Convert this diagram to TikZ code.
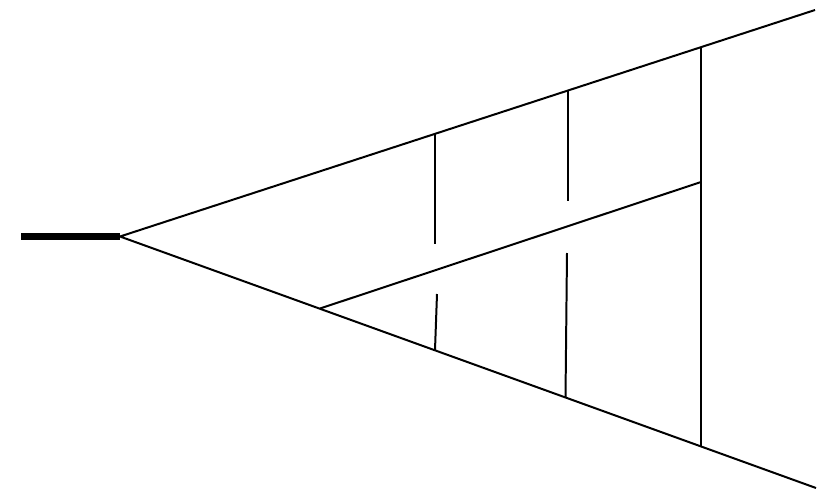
\documentclass[tikz,border=0pt]{standalone}
\usetikzlibrary{calc}
\tikzset{
	every path/.style={line width=1.7pt, line cap=butt},
	stem/.style={line width=6pt},
}
\begin{document}
\begin{tikzpicture}[x=0.03cm, y=-0.03cm]
		
		\useasboundingbox (0,0) rectangle (830,499);
		
		% points.....................
		\coordinate (apex) at (120,236.5);
		\coordinate (topend) at (815,10);
		\coordinate (botend) at (816,488);
		\coordinate (innerA) at (320,308.5);
		\coordinate (innerB) at (701,182);
		
		% stem......................
		\draw [stem] (21,236.5) to (apex);
		
		% outer lines...................
		\draw (topend) to (apex) to (botend);
		
		% inner line....................
		\draw (innerA) to (innerB);
		
		% right vertical...................
		\draw (701,47) to (701,446);
		
		% middle vertical, broken.............
		\draw (567.5,90) to (567.5,201);
		\draw (567,253) to (565.5,397.5);
		
		% left vertical, broken.......................
		\draw (435,133.5) to (435,244);
		\draw (437,294) to (435,350);
		
	\end{tikzpicture}
\end{document}
